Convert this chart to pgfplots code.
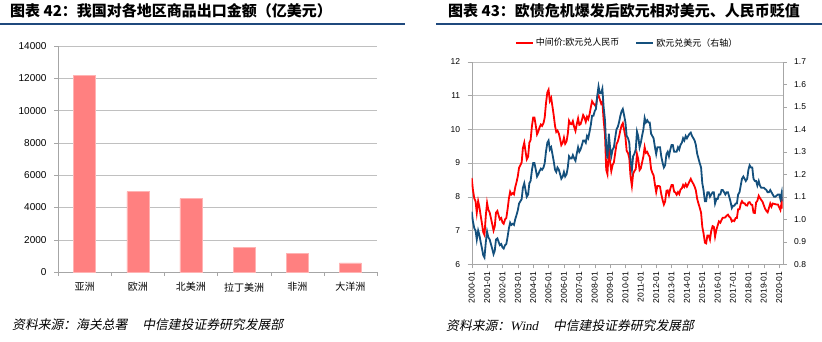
\documentclass[border=0pt]{standalone}
\usepackage{pgfplots}
\usepackage{pgfplotstable}
\pgfplotsset{compat=1.18}
\usepackage{fontspec}
\setmainfont{Liberation Sans}
\newfontfamily\cjk{Noto Sans CJK SC}
\newfontfamily\cjksl{Noto Sans CJK SC}[FakeSlant=0.2]
\newfontfamily\serifsl{Liberation Serif}[FakeSlant=0.2]
\definecolor{barred}{HTML}{FF8080}
\definecolor{titleblue}{HTML}{1F497D}
\definecolor{lineblue}{HTML}{14507D}
\definecolor{axgray}{HTML}{A6A6A6}
\definecolor{gridgray}{HTML}{C0C0C0}

\pgfplotstableread{
x red blue
2000.00 8.56 1.034
2000.08 8.20 0.99
2000.17 7.95 0.96
2000.25 7.87 0.95
2000.33 7.53 0.91
2000.42 7.87 0.95
2000.50 7.70 0.93
2000.58 7.45 0.90
2000.67 7.20 0.87
2000.75 6.95 0.84
2000.83 6.87 0.83
2000.92 7.45 0.90
2001.00 7.82 0.945
2001.08 7.62 0.92
2001.17 7.53 0.91
2001.25 7.37 0.89
2001.33 7.20 0.87
2001.42 7.00 0.845
2001.50 7.12 0.86
2001.58 7.53 0.91
2001.67 7.58 0.915
2001.75 7.45 0.90
2001.83 7.33 0.885
2001.92 7.37 0.89
2002.00 7.24 0.875
2002.08 7.20 0.87
2002.17 7.33 0.885
2002.25 7.37 0.89
2002.33 7.62 0.92
2002.42 7.95 0.96
2002.50 8.15 0.985
2002.58 8.07 0.975
2002.67 8.11 0.98
2002.75 8.07 0.975
2002.83 8.28 1.00
2002.92 8.44 1.02
2003.00 8.61 1.04
2003.08 8.86 1.07
2003.17 8.94 1.08
2003.25 9.02 1.09
2003.33 9.44 1.14
2003.42 9.60 1.16
2003.50 9.35 1.13
2003.58 9.11 1.10
2003.67 9.19 1.11
2003.75 9.60 1.16
2003.83 9.68 1.17
2003.92 10.10 1.22
2004.00 10.35 1.25
2004.08 10.35 1.25
2004.17 10.10 1.22
2004.25 9.85 1.19
2004.33 9.93 1.20
2004.42 10.06 1.215
2004.50 10.14 1.225
2004.58 10.10 1.22
2004.67 10.18 1.23
2004.75 10.35 1.25
2004.83 10.76 1.30
2004.92 11.09 1.34
2005.00 11.17 1.35
2005.08 10.84 1.31
2005.17 10.93 1.32
2005.25 10.68 1.29
2005.33 10.43 1.26
2005.42 10.10 1.22
2005.50 9.92 1.21
2005.58 9.96 1.23
2005.67 9.87 1.22
2005.75 9.71 1.20
2005.83 9.53 1.18
2005.92 9.60 1.19
2006.00 9.75 1.21
2006.08 9.57 1.19
2006.17 9.64 1.20
2006.25 9.86 1.23
2006.33 10.25 1.28
2006.42 10.16 1.27
2006.50 10.15 1.27
2006.58 10.24 1.285
2006.67 10.06 1.27
2006.75 9.95 1.26
2006.83 10.14 1.29
2006.92 10.32 1.32
2007.00 10.13 1.30
2007.08 10.15 1.31
2007.17 10.28 1.33
2007.25 10.42 1.35
2007.33 10.35 1.35
2007.42 10.22 1.34
2007.50 10.37 1.37
2007.58 10.30 1.36
2007.67 10.45 1.39
2007.75 10.65 1.42
2007.83 10.83 1.46
2007.92 10.76 1.46
2008.00 10.72 1.48
2008.08 10.67 1.49
2008.17 10.96 1.55
2008.25 11.00 1.59
2008.33 10.89 1.56
2008.42 10.76 1.56
2008.50 10.81 1.58
2008.58 10.28 1.50
2008.67 9.84 1.44
2008.75 8.80 1.32
2008.83 8.67 1.27
2008.92 9.44 1.38
2009.00 9.03 1.32
2009.08 8.76 1.28
2009.17 8.95 1.31
2009.25 9.02 1.32
2009.33 9.28 1.36
2009.42 9.56 1.40
2009.50 9.63 1.41
2009.58 9.77 1.43
2009.67 9.97 1.46
2009.75 10.11 1.48
2009.83 10.18 1.49
2009.92 9.97 1.46
2010.00 9.77 1.43
2010.08 9.36 1.37
2010.17 9.29 1.36
2010.25 9.15 1.34
2010.33 8.61 1.26
2010.42 8.32 1.22
2010.50 8.68 1.28
2010.58 8.76 1.29
2010.67 8.82 1.31
2010.75 9.27 1.39
2010.83 9.12 1.37
2010.92 8.79 1.32
2011.00 8.84 1.34
2011.08 9.01 1.37
2011.17 9.20 1.40
2011.25 9.47 1.45
2011.33 9.30 1.43
2011.42 9.33 1.44
2011.50 9.24 1.43
2011.58 9.18 1.43
2011.67 8.82 1.38
2011.75 8.71 1.37
2011.83 8.64 1.36
2011.92 8.36 1.32
2012.00 8.14 1.29
2012.08 8.32 1.32
2012.17 8.32 1.32
2012.25 8.30 1.32
2012.33 8.08 1.28
2012.42 7.90 1.25
2012.50 7.77 1.23
2012.58 7.86 1.24
2012.67 8.18 1.29
2012.75 8.19 1.30
2012.83 8.05 1.28
2012.92 8.24 1.31
2013.00 8.35 1.33
2013.08 8.35 1.33
2013.17 8.15 1.30
2013.25 8.13 1.30
2013.33 8.06 1.30
2013.42 8.14 1.32
2013.50 8.08 1.31
2013.58 8.21 1.33
2013.67 8.25 1.34
2013.75 8.35 1.36
2013.83 8.29 1.35
2013.92 8.38 1.37
2014.00 8.30 1.36
2014.08 8.37 1.37
2014.17 8.46 1.38
2014.25 8.53 1.385
2014.33 8.45 1.37
2014.42 8.38 1.36
2014.50 8.30 1.35
2014.58 8.19 1.33
2014.67 7.93 1.29
2014.75 7.80 1.27
2014.83 7.68 1.25
2014.92 7.53 1.23
2015.00 7.11 1.16
2015.08 6.92 1.13
2015.17 6.64 1.08
2015.25 6.62 1.08
2015.33 6.85 1.12
2015.42 6.85 1.12
2015.50 6.73 1.10
2015.58 6.99 1.11
2015.67 7.13 1.12
2015.75 7.11 1.12
2015.83 6.82 1.07
2015.92 7.03 1.09
2016.00 7.15 1.09
2016.08 7.27 1.11
2016.17 7.23 1.11
2016.25 7.31 1.13
2016.33 7.38 1.13
2016.42 7.38 1.12
2016.50 7.39 1.11
2016.58 7.44 1.12
2016.67 7.47 1.12
2016.75 7.41 1.10
2016.83 7.38 1.08
2016.92 7.27 1.05
2017.00 7.30 1.06
2017.08 7.28 1.06
2017.17 7.37 1.07
2017.25 7.37 1.07
2017.33 7.63 1.11
2017.42 7.63 1.12
2017.50 7.79 1.15
2017.58 7.87 1.18
2017.67 7.81 1.19
2017.75 7.81 1.18
2017.83 7.75 1.17
2017.92 7.74 1.18
2018.00 7.83 1.22
2018.08 7.84 1.24
2018.17 7.77 1.23
2018.25 7.76 1.23
2018.33 7.53 1.18
2018.42 7.52 1.17
2018.50 7.83 1.17
2018.58 7.88 1.15
2018.67 8.03 1.17
2018.75 7.96 1.15
2018.83 7.91 1.14
2018.92 7.85 1.14
2019.00 7.75 1.14
2019.08 7.65 1.135
2019.17 7.58 1.13
2019.25 7.54 1.12
2019.33 7.66 1.12
2019.42 7.80 1.13
2019.50 7.71 1.12
2019.58 7.80 1.11
2019.67 7.79 1.10
2019.75 7.78 1.10
2019.83 7.77 1.105
2019.92 7.77 1.11
2020.00 7.69 1.11
2020.08 7.61 1.09
2020.17 7.87 1.12
2020.22 7.65 1.08
}\fxdata

\begin{document}
\begin{tikzpicture}
\path[use as bounding box] (0pt,0pt) rectangle (822pt,341pt);
% titles and rules
\node[anchor=west, inner sep=0] at (10pt,330pt) {\cjk\bfseries\fontsize{15}{17}\selectfont 图表 42：我国对各地区商品出口金额（亿美元）};
\draw[titleblue, line width=2.5pt] (0pt,317pt) -- (405pt,317pt);
\node[anchor=west, inner sep=0] at (448pt,330pt) {\cjk\bfseries\fontsize{15}{17}\selectfont 图表 43：欧债危机爆发后欧元相对美元、人民币贬值};
\draw[titleblue, line width=2.5pt] (436pt,317pt) -- (822pt,317pt);
% sources
\node[anchor=west, inner sep=0] at (12pt,16pt) {\cjksl\fontsize{12.8}{14}\selectfont 资料来源：海关总署\hspace{15pt}中信建投证券研究发展部};
\node[anchor=west, inner sep=0] at (446pt,15pt) {\cjksl\fontsize{12.8}{14}\selectfont 资料来源：{\serifsl Wind}\hspace{15pt}中信建投证券研究发展部};

% left bar chart
\begin{axis}[at={(58pt,69pt)}, anchor=south west, scale only axis,
  width=319pt, height=226pt,
  xmin=-0.5, xmax=5.5, ymin=0, ymax=14000,
  axis x line*=bottom, axis y line*=left,
  axis line style={axgray, -},
  ytick={0,2000,4000,6000,8000,10000,12000,14000}, ymajorgrids, grid style={gridgray},
  scaled y ticks=false,
  xtick={-0.5,0.5,1.5,2.5,3.5,4.5,5.5},
  xticklabels={亚洲,欧洲,北美洲,拉丁美洲,非洲,大洋洲},
  x tick label as interval,
  tick align=outside, major tick length=4pt,
  tick style={axgray},
  x tick label style={font=\cjk\fontsize{10}{12}\selectfont, yshift=-3pt},
  y tick label style={font=\fontsize{10}{12}\selectfont, xshift=-4pt},
  /pgf/number format/1000 sep={}, /pgf/number format/assume math mode=true,
]
\addplot[ybar, bar width=22pt, fill=barred, draw=barred!60] coordinates {(0,12200) (1,4980) (2,4550) (3,1520) (4,1150) (5,560)};
\end{axis}

% right line chart, left axis
\begin{axis}[at={(471.7pt,76.7pt)}, anchor=south west, scale only axis,
  width=311pt, height=202.6pt,
  xmin=2000, xmax=2020.23, ymin=6, ymax=12,
  ytick={6,7,8,9,10,11,12},
  axis x line*=bottom, axis y line*=left,
  axis line style={axgray, -},
  ymajorgrids, grid style={gridgray},
  xtick={2000,2001,...,2020},
  xticklabels={2000-01,2001-01,2002-01,2003-01,2004-01,2005-01,2006-01,2007-01,2008-01,2009-01,2010-01,2011-01,2012-01,2013-01,2014-01,2015-01,2016-01,2017-01,2018-01,2019-01,2020-01},
  x tick label style={rotate=90, anchor=east, font=\fontsize{8.5}{10}\selectfont},
  y tick label style={font=\fontsize{8.5}{10}\selectfont, xshift=-4pt},
  tick align=outside, major tick length=4pt, tick style={axgray},
  /pgf/number format/assume math mode=true,
  legend style={at={(0.5,1)}, anchor=south, yshift=10pt, draw=none, fill=none,
    legend columns=2, font=\cjk\fontsize{9}{11}\selectfont,
    /tikz/every even column/.append style={column sep=14pt}},
]
\addplot[red, line width=1.8pt] table[x=x, y=red] {\fxdata};
\addlegendentry{中间价:欧元兑人民币}
\addlegendimage{lineblue, line width=1.8pt}
\addlegendentry{欧元兑美元（右轴）}
\end{axis}

% right axis
\begin{axis}[at={(471.7pt,76.7pt)}, anchor=south west, scale only axis,
  width=311pt, height=202.6pt,
  xmin=2000, xmax=2020.23, ymin=0.8, ymax=1.7,
  axis y line*=right, axis x line=none,
  axis line style={axgray, -},
  ytick={0.8,0.9,1.0,1.1,1.2,1.3,1.4,1.5,1.6,1.7},
  y tick label style={font=\fontsize{8.5}{10}\selectfont, xshift=4pt},
  tick align=outside, major tick length=4pt, tick style={axgray},
  /pgf/number format/.cd, fixed, fixed zerofill, precision=1, assume math mode=true,
]
\addplot[lineblue, line width=1.8pt] table[x=x, y=blue] {\fxdata};
\end{axis}
\end{tikzpicture}
\end{document}
